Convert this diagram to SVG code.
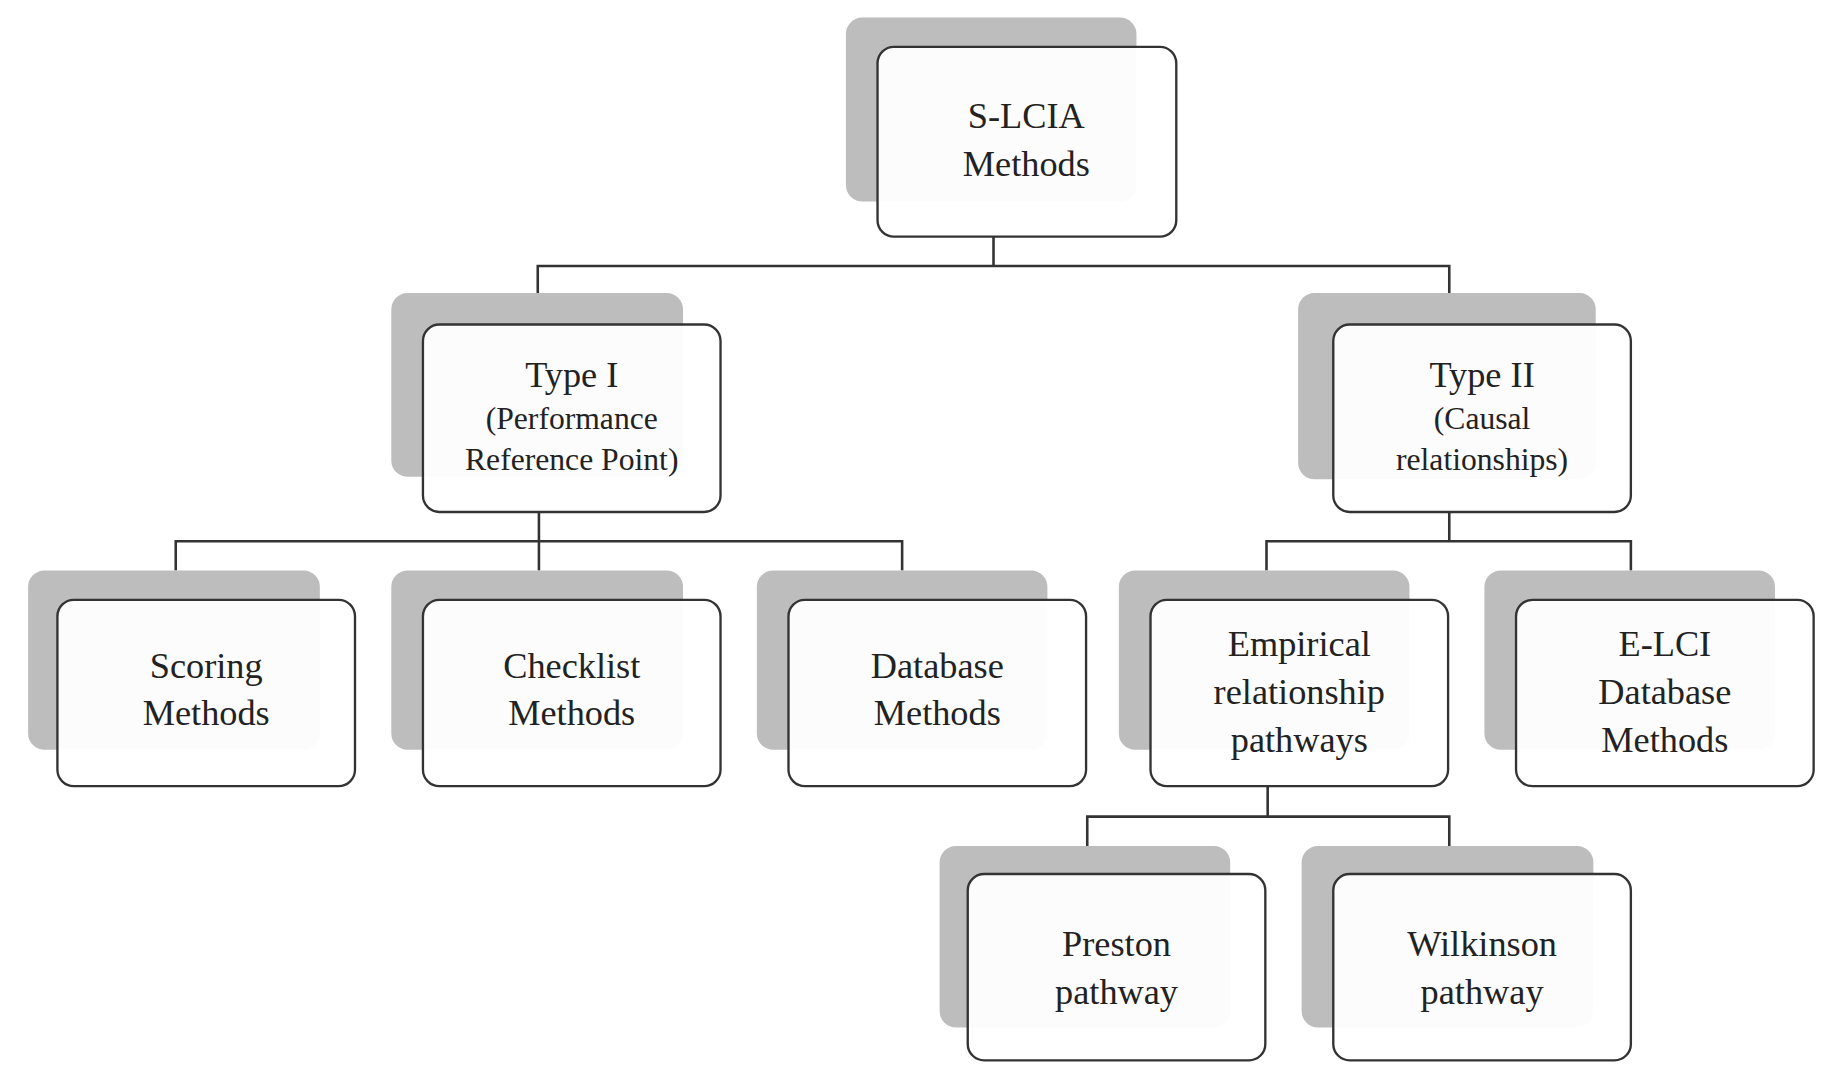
<svg xmlns="http://www.w3.org/2000/svg" width="1837" height="1085" viewBox="0 0 1837 1085">
<style>
.s{fill:#bdbdbd}
.f{fill:#fff;fill-opacity:0.95;stroke:#333;stroke-width:2}
.t{font-family:"Liberation Serif",serif;font-size:31px;fill:#222;text-anchor:middle}
.t2{font-family:"Liberation Serif",serif;font-size:27px;fill:#222;text-anchor:middle}
.c{fill:none;stroke:#333;stroke-width:2.2}
</style>
<rect width="1837" height="1085" fill="#fff"/>
<g transform="scale(1.1716)">
<g id="connectors">
<path class="c" d="M848 202V227M459 250V227H1237V250"/>
<path class="c" d="M460 437V462M150 487V462H770V487M460 462V487"/>
<path class="c" d="M1237 437V462M1081 487V462H1392V487"/>
<path class="c" d="M1082 671V697M928 722V697H1237V722"/>
</g>
<g id="slcia"><rect class="s" x="722" y="15" width="248" height="157" rx="14"/><rect class="f" x="749" y="40" width="255" height="162" rx="14"/><text class="t" x="876" y="109">S-LCIA</text><text class="t" x="876" y="150">Methods</text></g>
<g id="type1"><rect class="s" x="334" y="250" width="249" height="157" rx="14"/><rect class="f" x="361" y="277" width="254" height="160" rx="14"/><text class="t" x="488" y="330">Type I</text><text class="t2" x="488" y="366">(Performance</text><text class="t2" x="488" y="401">Reference Point)</text></g>
<g id="type2"><rect class="s" x="1108" y="250" width="254" height="159" rx="14"/><rect class="f" x="1138" y="277" width="254" height="160" rx="14"/><text class="t" x="1265" y="330">Type II</text><text class="t2" x="1265" y="366">(Causal</text><text class="t2" x="1265" y="401">relationships)</text></g>
<g id="scoring"><rect class="s" x="24" y="487" width="249" height="153" rx="14"/><rect class="f" x="49" y="512" width="254" height="159" rx="14"/><text class="t" x="176" y="579">Scoring</text><text class="t" x="176" y="619">Methods</text></g>
<g id="checklist"><rect class="s" x="334" y="487" width="249" height="153" rx="14"/><rect class="f" x="361" y="512" width="254" height="159" rx="14"/><text class="t" x="488" y="579">Checklist</text><text class="t" x="488" y="619">Methods</text></g>
<g id="database"><rect class="s" x="646" y="487" width="248" height="153" rx="14"/><rect class="f" x="673" y="512" width="254" height="159" rx="14"/><text class="t" x="800" y="579">Database</text><text class="t" x="800" y="619">Methods</text></g>
<g id="empirical"><rect class="s" x="955" y="487" width="248" height="153" rx="14"/><rect class="f" x="982" y="512" width="254" height="159" rx="14"/><text class="t" x="1109" y="560">Empirical</text><text class="t" x="1109" y="601">relationship</text><text class="t" x="1109" y="642">pathways</text></g>
<g id="elci"><rect class="s" x="1267" y="487" width="248" height="153" rx="14"/><rect class="f" x="1294" y="512" width="254" height="159" rx="14"/><text class="t" x="1421" y="560">E-LCI</text><text class="t" x="1421" y="601">Database</text><text class="t" x="1421" y="642">Methods</text></g>
<g id="preston"><rect class="s" x="802" y="722" width="248" height="155" rx="14"/><rect class="f" x="826" y="746" width="254" height="159" rx="14"/><text class="t" x="953" y="816">Preston</text><text class="t" x="953" y="857">pathway</text></g>
<g id="wilkinson"><rect class="s" x="1111" y="722" width="249" height="155" rx="14"/><rect class="f" x="1138" y="746" width="254" height="159" rx="14"/><text class="t" x="1265" y="816">Wilkinson</text><text class="t" x="1265" y="857">pathway</text></g>
</g>
</svg>
